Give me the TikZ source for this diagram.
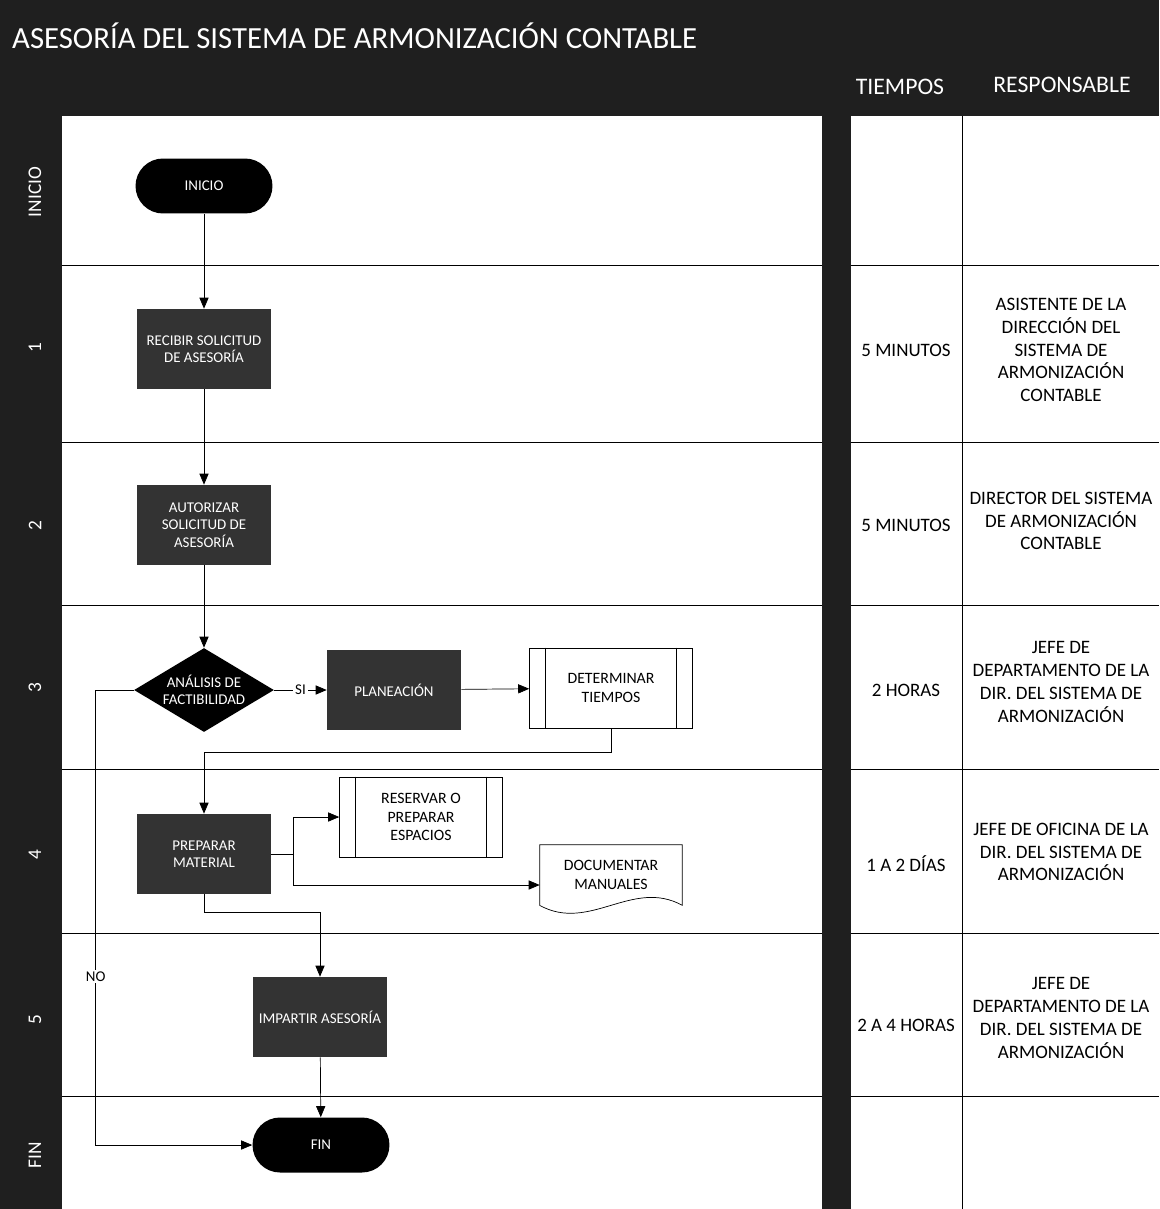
\documentclass[tikz,border=0pt]{standalone}
\usepackage{fontspec}
\setmainfont{Carlito}
\usetikzlibrary{arrows, shapes.geometric}

\begin{document}
\begin{tikzpicture}[x = 0.02cm, y = -0.02cm]
\tikzstyle{Terminal}=[shape = rectangle, rounded corners = 0.55cm,
                      fill = black, text = white,
                      minimum width = 2.74cm, minimum height = 1.1cm,
                      font = \fontsize{8.5}{10}\selectfont]
\tikzstyle{Proceso}=[shape = rectangle, fill = black!80, text = white,
                     minimum width = 2.68cm, minimum height = 1.6cm,
                     inner sep = 1pt, align = center,
                     font = \fontsize{8.5}{10}\selectfont]
\tikzstyle{Decision}=[shape = diamond, fill = black, text = white,
                      minimum width = 2.8cm, minimum height = 1.68cm,
                      aspect = 1.67, inner sep = 0pt, align = center,
                      font = \fontsize{8.5}{10}\selectfont]
\tikzstyle{Predefinido}=[shape = rectangle, draw, fill = white,
                         minimum width = 3.26cm, minimum height = 1.6cm,
                         align = center, font = \fontsize{9}{10.5}\selectfont]
\tikzstyle{Documento}=[shape = rectangle, minimum width = 2.84cm,
                       minimum height = 1.2cm, align = center,
                       font = \fontsize{9}{10.5}\selectfont]
\tikzstyle{Flecha}=[-triangle 45, thin]
\tikzstyle{Etiqueta}=[fill = white, inner sep = 1pt,
                      font = \fontsize{8.5}{10}\selectfont]
\tikzstyle{Carril}=[text = white, rotate = 90, font = \fontsize{11}{13}\selectfont]
\tikzstyle{Celda}=[align = center, font = \fontsize{10.8}{13}\selectfont]
\tikzstyle{Encabezado}=[text = white, font = \fontsize{13.5}{16}\selectfont]
\useasboundingbox (0,0) rectangle (1159,1209);
\fill[black!88] (0,0) rectangle (1159,1209);
\fill[white] (62,116) rectangle (822,1209);
\fill[white] (851,116) rectangle (1159,1209);
\foreach \y in {265,442,605,769,933,1096}
  {\draw (62,\y) -- (822,\y);
   \draw (851,\y) -- (1159,\y);}
\draw (962,116) -- (962,1209);
\node[anchor = west, text = white, font = \fontsize{17.5}{20}\selectfont] (titulo) at (6,36) {ASESORÍA DEL SISTEMA DE ARMONIZACIÓN CONTABLE};
\node[Encabezado] (tiempos) at (900,87) {TIEMPOS};
\node[Encabezado] (responsable) at (1062,85) {RESPONSABLE};
\node[Carril] (cinicio) at (35,192) {INICIO};
\node[Carril] (c1) at (35,348) {1};
\node[Carril] (c2) at (35,526) {2};
\node[Carril] (c3) at (35,688) {3};
\node[Carril] (c4) at (35,855) {4};
\node[Carril] (c5) at (35,1020) {5};
\node[Carril] (cfin) at (35,1155) {FIN};
\node[Terminal] (inicio) at (204,186) {INICIO};
\node[Proceso] (recibir) at (204,349) {RECIBIR SOLICITUD\\DE ASESORÍA};
\node[Proceso] (autorizar) at (204,525) {AUTORIZAR\\SOLICITUD DE\\ASESORÍA};
\node[Decision] (analisis) at (204,690) {ANÁLISIS DE\\FACTIBILIDAD};
\node[Proceso] (planeacion) at (394,690) {PLANEACIÓN};
\node[Predefinido] (determinar) at (611,688) {DETERMINAR\\TIEMPOS};
\node[Proceso] (preparar) at (204,854) {PREPARAR\\MATERIAL};
\node[Predefinido] (reservar) at (421,817) {RESERVAR O\\PREPARAR\\ESPACIOS};
\node[Documento] (documentar) at (611,875) {DOCUMENTAR\\MANUALES};
\node[Proceso] (impartir) at (320,1017) {IMPARTIR ASESORÍA};
\node[Terminal] (fin) at (321,1145) {FIN};
\foreach \n in {determinar, reservar}
  {\draw ([xshift = 0.32cm]\n.north west) -- ([xshift = 0.32cm]\n.south west);
   \draw ([xshift = -0.32cm]\n.north east) -- ([xshift = -0.32cm]\n.south east);}
\draw (documentar.north west) -- (documentar.north east) -- (documentar.south east)
  .. controls ([xshift = -1cm, yshift = 0.55cm]documentar.south east) and ([xshift = 1cm, yshift = -0.55cm]documentar.south west) .. (documentar.south west) -- cycle;
\draw[Flecha] (inicio) -- (recibir);
\draw[Flecha] (recibir) -- (autorizar);
\draw[Flecha] (autorizar) -- (analisis);
\draw[Flecha] (analisis) -- node[Etiqueta] {SI} (planeacion);
\draw[Flecha] (planeacion) -- (determinar);
\draw[Flecha] (determinar.south) -- ++(0,24) -| (preparar.north);
\draw[Flecha] (preparar.east) -- ++(22,0) |- (reservar.west);
\draw[Flecha] (preparar.east) -- ++(22,0) |- ([yshift = -0.2cm]documentar.west);
\draw[Flecha] (preparar.south) -- ++(0,18) -| (impartir.north);
\draw[Flecha] (impartir) -- (fin);
\draw[Flecha] (analisis.west) -- ++(-38,0) |- node[pos = 0.315, Etiqueta] {NO} (fin.west);
\node[Celda] (t1) at (906,350) {5 MINUTOS};
\node[Celda] (t2) at (906,525) {5 MINUTOS};
\node[Celda] (t3) at (906,690) {2 HORAS};
\node[Celda] (t4) at (906,864) {1 A 2 DÍAS};
\node[Celda] (t5) at (906,1025) {2 A 4 HORAS};
\node[Celda] (r1) at (1061,350) {ASISTENTE DE LA\\DIRECCIÓN DEL\\SISTEMA DE\\ARMONIZACIÓN\\CONTABLE};
\node[Celda] (r2) at (1061,521) {DIRECTOR DEL SISTEMA\\DE ARMONIZACIÓN\\CONTABLE};
\node[Celda] (r3) at (1061,682) {JEFE DE\\DEPARTAMENTO DE LA\\DIR. DEL SISTEMA DE\\ARMONIZACIÓN};
\node[Celda] (r4) at (1061,852) {JEFE DE OFICINA DE LA\\DIR. DEL SISTEMA DE\\ARMONIZACIÓN};
\node[Celda] (r5) at (1061,1018) {JEFE DE\\DEPARTAMENTO DE LA\\DIR. DEL SISTEMA DE\\ARMONIZACIÓN};
\end{tikzpicture}
\end{document}
